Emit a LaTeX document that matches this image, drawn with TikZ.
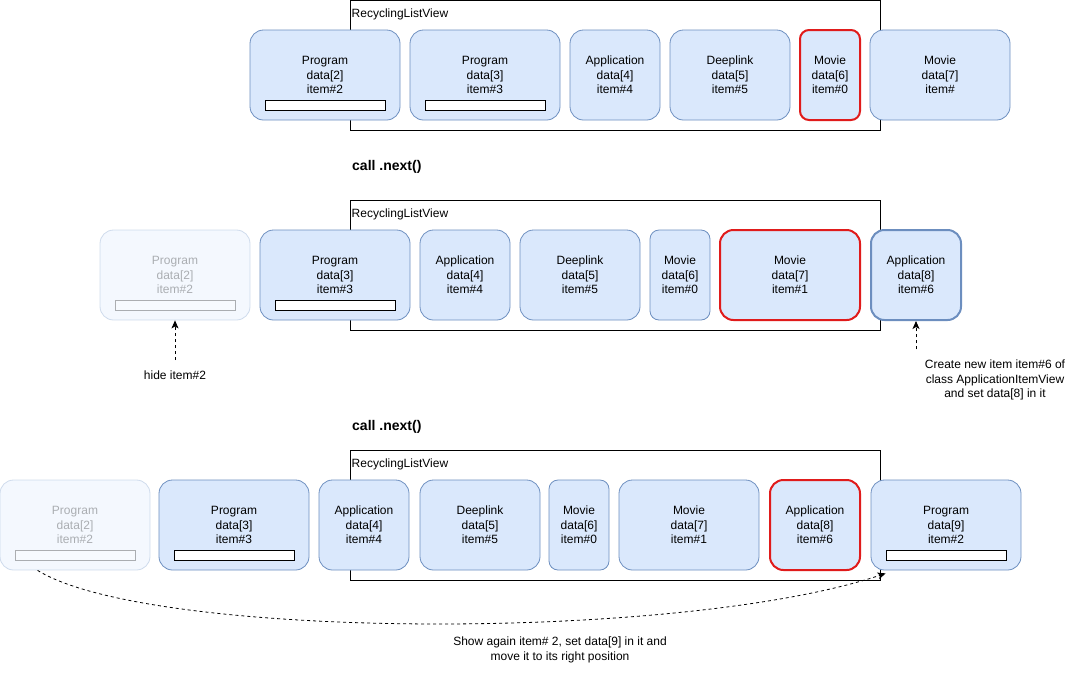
\documentclass[tikz,border=0pt]{standalone}
\usepackage{fontspec}
\setmainfont{Liberation Sans}
\usepackage{tikz}
\usetikzlibrary{arrows,arrows.meta,calc,positioning}
\definecolor{itemfill}{HTML}{DAE8FC}
\definecolor{itemdraw}{HTML}{6C8EBF}
\definecolor{curred}{HTML}{E01B1B}

\begin{document}
\begin{tikzpicture}[
    x=1pt, y=-1pt,
    every node/.style={font=\fontsize{12}{14.5}\selectfont},
    item/.style={rectangle, draw=itemdraw, fill=itemfill, rounded corners=13.5pt,
        minimum height=90pt, align=center, inner sep=0, line width=0.8pt},
    narrow/.style={item, rounded corners=9pt},
    current/.style={draw=curred, line width=2pt},
    newitem/.style={line width=2pt},
    bar/.style={rectangle, draw=black, fill=white, minimum width=120pt, minimum height=10pt, inner sep=0, line width=0.8pt},
    faded/.style={draw opacity=0.3, fill opacity=0.3, text opacity=0.3},
    view/.style={rectangle, draw=black, line width=1pt, minimum width=530pt, minimum height=130pt, inner sep=0},
    viewname/.style={anchor=base west, inner sep=0},
    step title/.style={font=\fontsize{14}{16}\selectfont\bfseries, anchor=base west, inner sep=0},
    note/.style={align=center},
    link/.style={draw=black, dashed, line width=0.8pt, -{Stealth[length=8pt, width=7pt, inset=2pt]}}]

\useasboundingbox (0,0) rectangle (1079,681);

\node (view1) [view] at (615,65) {};
\node (view1name) [viewname] at ($(view1.north west)+(2,18)$) {RecyclingListView};
\node (a1) [item, minimum width=150pt] at (325,75) {Program\\data[2]\\item\#2};
\node (a1bar) [bar, above=10pt of a1.south] {};
\node (a2) [item, minimum width=150pt] at (485,75) {Program\\data[3]\\item\#3};
\node (a2bar) [bar, above=10pt of a2.south] {};
\node (a3) [item, minimum width=90pt] at (615,75) {Application\\data[4]\\item\#4};
\node (a4) [item, minimum width=120pt] at (730,75) {Deeplink\\data[5]\\item\#5};
\node (a5) [narrow, current, minimum width=60pt] at (830,75) {Movie\\data[6]\\item\#0};
\node (a6) [item, minimum width=140pt] at (940,75) {Movie\\data[7]\\item\#};

\node (next1) [step title] at (352,170) {call .next()};

\node (view2) [view] at (615,265) {};
\node (view2name) [viewname] at ($(view2.north west)+(2,18)$) {RecyclingListView};
\node (b1) [item, faded, minimum width=150pt] at (175,275) {Program\\data[2]\\item\#2};
\node (b1bar) [bar, faded, above=10pt of b1.south] {};
\node (b2) [item, minimum width=150pt] at (335,275) {Program\\data[3]\\item\#3};
\node (b2bar) [bar, above=10pt of b2.south] {};
\node (b3) [item, minimum width=90pt] at (465,275) {Application\\data[4]\\item\#4};
\node (b4) [item, minimum width=120pt] at (580,275) {Deeplink\\data[5]\\item\#5};
\node (b5) [narrow, minimum width=60pt] at (680,275) {Movie\\data[6]\\item\#0};
\node (b6) [item, current, minimum width=140pt] at (790,275) {Movie\\data[7]\\item\#1};
\node (b7) [item, newitem, minimum width=90pt] at (916,275) {Application\\data[8]\\item\#6};

\node (hidenote) [note] at (175,375) {hide item\#2};
\draw[link] ([yshift=7pt]hidenote.north) -- (b1.south);
\node (newnote) [note] at (995,380) {Create new item item\#6 of\\class ApplicationItemView\\and set data[8] in it};
\draw[link] ($(b7.south |- newnote.north)+(0,-7)$) -- (b7.south);

\node (next2) [step title] at (352,430) {call .next()};

\node (view3) [view] at (615,515) {};
\node (view3name) [viewname] at ($(view3.north west)+(2,18)$) {RecyclingListView};
\node (c1) [item, faded, minimum width=150pt] at (75,525) {Program\\data[2]\\item\#2};
\node (c1bar) [bar, faded, above=10pt of c1.south] {};
\node (c2) [item, minimum width=150pt] at (234,525) {Program\\data[3]\\item\#3};
\node (c2bar) [bar, above=10pt of c2.south] {};
\node (c3) [item, minimum width=90pt] at (364,525) {Application\\data[4]\\item\#4};
\node (c4) [item, minimum width=120pt] at (480,525) {Deeplink\\data[5]\\item\#5};
\node (c5) [narrow, minimum width=60pt] at (579,525) {Movie\\data[6]\\item\#0};
\node (c6) [item, minimum width=140pt] at (689,525) {Movie\\data[7]\\item\#1};
\node (c7) [item, current, minimum width=90pt] at (815,525) {Application\\data[8]\\item\#6};
\node (c8) [item, minimum width=150pt] at (946,525) {Program\\data[9]\\item\#2};
\node (c8bar) [bar, above=10pt of c8.south] {};

\node (shownote) [note] at (560,650) {Show again item\# 2, set data[9] in it and\\move it to its right position};
\draw[link] ($(c1.south west)+(38,0)$) .. controls (150,640) and (680,642) .. ($(c8.south west)+(15,3)$);

\end{tikzpicture}
\end{document}
